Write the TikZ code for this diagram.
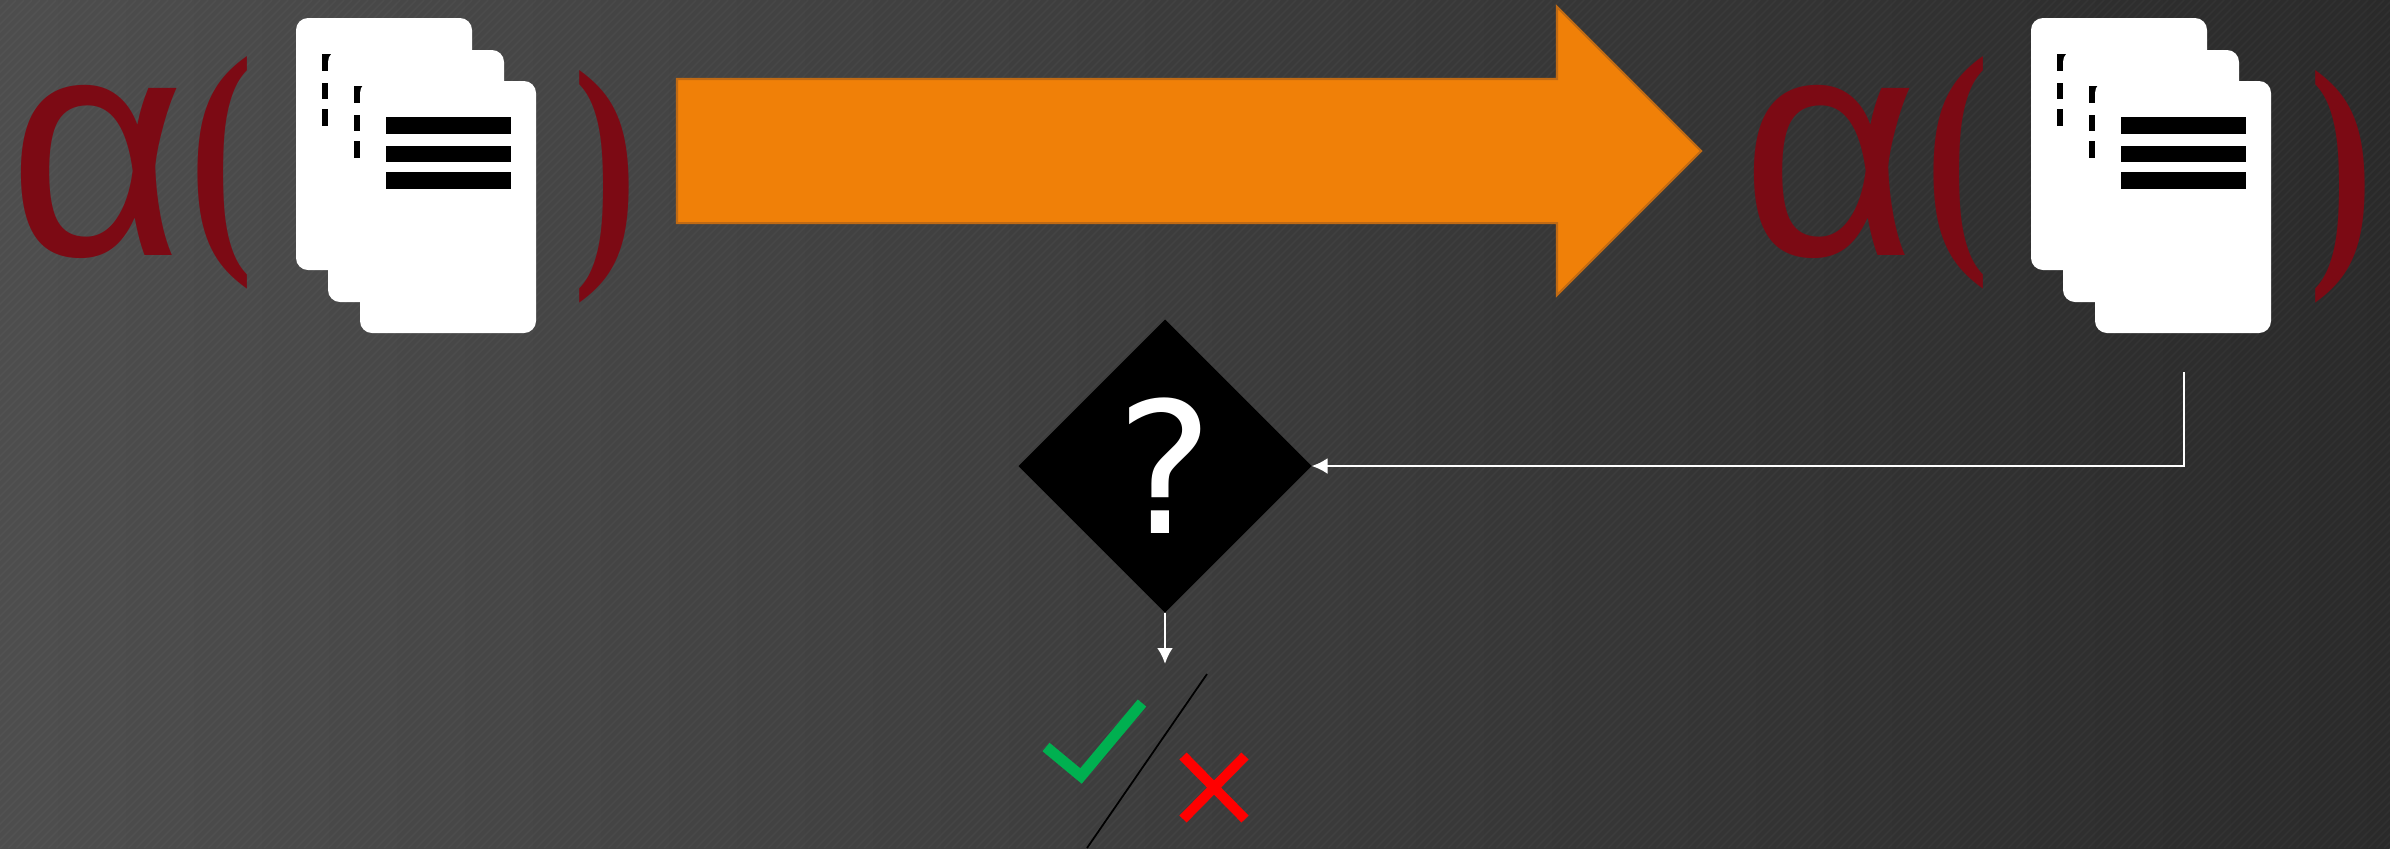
\documentclass[tikz,border=0pt]{standalone}
\usepackage{fontspec}
\setmainfont{DejaVu Sans}
\newfontfamily\alphafont{Liberation Sans}
\newfontfamily\parenfont{Liberation Serif}
\usetikzlibrary{arrows.meta,calc,positioning,shapes.geometric,shapes.arrows}
\definecolor{Wine}{HTML}{7C0A14}
\definecolor{Amber}{HTML}{F08008}
\definecolor{AmberEdge}{HTML}{C06A14}
\definecolor{BgLight}{HTML}{565656}
\definecolor{BgDark}{HTML}{212121}
\definecolor{Tick}{HTML}{00B050}
\newcommand{\sheet}[2]{%
  \fill[white,rounded corners=.12cm] (#1,#2) rectangle ++(1.76,2.52);
  \fill[black] ($(#1,#2)+(.26,.36)$) rectangle ++(1.25,.17);
  \fill[black] ($(#1,#2)+(.26,.65)$) rectangle ++(1.25,.16);
  \fill[black] ($(#1,#2)+(.26,.91)$) rectangle ++(1.25,.17);
}
\tikzset{
  pics/docstack/.style={code={
    \sheet{0}{0}
    \sheet{.32}{.32}
    \sheet{.64}{.63}
  }}
}
\begin{document}
\begin{tikzpicture}[
  x=1cm,y=-1cm,
  every node/.style={inner sep=0pt,outer sep=0pt},
  letter/.style={text=Wine,xscale=.97,font=\alphafont\fontsize{90}{90}\selectfont},
  bracket/.style={text=Wine,xscale=.75,font=\parenfont\bfseries\fontsize{73}{73}\selectfont},
  arr/.style={-{Latex[length=.16cm,width=.16cm]},white,line width=.8pt},
  block/.style={diamond,aspect=1,fill=black,minimum width=2.93cm,minimum height=2.93cm,text=white,font=\fontsize{52}{52}\selectfont},
  bigarrow/.style={single arrow,fill=Amber,draw=AmberEdge,line width=.6pt,minimum height=10.24cm,inner xsep=0pt,inner ysep=.71cm,single arrow head extend=.72cm,single arrow tip angle=90}
]
  \useasboundingbox (0,0) rectangle (23.9,8.48);
  \clip (0,0) rectangle (23.9,8.48);
  % background
  \shade[left color=BgLight,right color=BgDark,rotate around={-45:(11.95,4.24)}] (0.5,-10) rectangle (23.4,18);
  \foreach \s in {0,.08,...,32.4}
    \draw[white,opacity=.03,line width=.4pt] (\s,0) -- ++(-8.48,8.48);

  % left group
  \node[letter] (alphaL) at (.97,1.72) {α};
  \node[bracket] (openL) at (2.22,1.73) {(};
  \node[bracket] (closeL) at (6.06,1.87) {)};
  \pic at (2.96,.18) {docstack};

  \node[bigarrow] (move) at (11.53,1.51) {};

  % right group
  \node[letter] (alphaR) at (18.3,1.72) {α};
  \node[bracket] (openR) at (19.58,1.73) {(};
  \node[bracket] (closeR) at (23.42,1.87) {)};
  \pic at (20.31,.18) {docstack};

  \node[block] (test) at (11.65,4.66) {?};
  \coordinate (docend) at (21.84,3.72);
  \coordinate (verdict) at (11.65,6.64);
  \draw[arr] (docend) |- (test.east);
  \draw[arr] (test.south) -- (verdict);

  % verdict marks
  \draw[black,line width=.5pt] (12.07,6.74) -- (10.87,8.48);
  \draw[Tick,line width=.11cm] (10.46,7.47) -- (10.81,7.76) -- (11.42,7.03);
  \draw[red,line width=.1cm] (11.83,7.56) -- (12.45,8.19) (12.45,7.56) -- (11.83,8.19);
\end{tikzpicture}
\end{document}
